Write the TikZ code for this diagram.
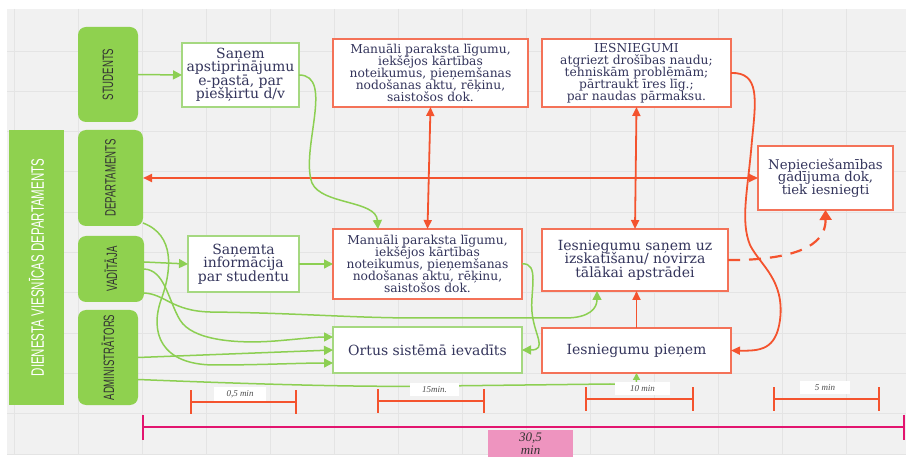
\documentclass[tikz,border=0pt]{standalone}
\usepackage{fontspec}
\setmainfont{DejaVu Serif}
\newfontfamily\narrowsans[FakeStretch=0.64]{Liberation Sans}
\newfontfamily\handfont{Liberation Serif}
\usetikzlibrary{arrows.meta}

\definecolor{lanegreen}{HTML}{8FD14F}
\definecolor{linegreen}{HTML}{8CCF52}
\definecolor{boxgreen}{HTML}{A5D880}
\definecolor{linered}{HTML}{F4532E}
\definecolor{boxred}{HTML}{F47258}
\definecolor{ink}{HTML}{34355C}
\definecolor{bgpaper}{HTML}{F1F1F1}
\definecolor{gridc}{HTML}{E4E4E4}
\definecolor{magentaline}{HTML}{E2156F}
\definecolor{pinknote}{HTML}{EE94BF}

% tight multi-line text: keep the baseline distance even for tall accented glyphs
\lineskiplimit=-100pt
\lineskip=0pt

\tikzset{
  lane/.style={fill=lanegreen, draw=none, rounded corners=8pt, inner sep=0pt, outer sep=0pt,
    text=black!80, font=\narrowsans\fontsize{15}{15}\selectfont},
  bigbar/.style={fill=lanegreen, draw=none, inner sep=0pt, outer sep=0pt,
    text=white, font=\narrowsans\fontsize{18}{18}\selectfont},
  gbox/.style={draw=boxgreen, line width=1.3pt, fill=white, inner sep=0pt, outer sep=0pt,
    align=center, text=ink},
  rbox/.style={draw=boxred, line width=1.3pt, fill=white, inner sep=0pt, outer sep=0pt,
    align=center, text=ink},
  bigtext/.style={font=\fontsize{14}{13.5}\selectfont},
  smalltext/.style={font=\fontsize{12.3}{12}\selectfont},
  gline/.style={draw=linegreen, line width=1.5pt},
  garrow/.style={gline, -{Triangle[length=9pt,width=9pt]}},
  rline/.style={draw=linered, line width=1.8pt},
  rarrow/.style={rline, -{Triangle[length=9pt,width=8pt]}},
  rboth/.style={rline, {Triangle[length=9pt,width=8pt]}-{Triangle[length=9pt,width=8pt]}},
  timebar/.style={draw=linered, line width=1.8pt, {Bar[width=23pt]}-{Bar[width=23pt]}},
  totalbar/.style={draw=magentaline, line width=2pt, {Bar[width=25pt]}-{Bar[width=25pt]}},
  note/.style={fill=white, inner sep=0pt, minimum height=13pt, text=black!70,
    font=\handfont\itshape\fontsize{9}{9}\selectfont},
}

\begin{document}
\begin{tikzpicture}[x=1pt,y=-1pt]
  % canvas and board
  \fill[white] (0,0) rectangle (906,457);
  \useasboundingbox (0,0) rectangle (906,457);
  \fill[bgpaper] (7,9) rectangle (906,455);
  \begin{scope}
    \clip (7,9) rectangle (906,455);
    \foreach \gx in {14,78,...,910} \draw[gridc, line width=0.8pt] (\gx,9) -- (\gx,455);
    \foreach \k in {0,...,10} \draw[gridc, line width=0.8pt] (7,{51+40.3*\k}) -- (906,{51+40.3*\k});
  \end{scope}

  % swimlane headers
  \node[bigbar, minimum width=55pt, minimum height=275pt] (dvd) at (36.5,267.5)
    {\rotatebox{90}{DIENESTA VIESNĪCAS DEPARTAMENTS}};
  \node[lane, minimum width=60pt, minimum height=95pt] (stud) at (108,74.5) {\rotatebox{90}{STUDENTS}};
  \node[lane, minimum width=65pt, minimum height=96pt] (dep) at (110.5,178) {\rotatebox{90}{DEPARTAMENTS}};
  \node[lane, minimum width=66pt, minimum height=66pt] (vad) at (111,269) {\rotatebox{90}{VADĪTĀJA}};
  \node[lane, minimum width=60pt, minimum height=95pt] (adm) at (108,357.5) {\rotatebox{90}{ADMINISTRĀTORS}};

  % process boxes
  \node[gbox, bigtext, minimum width=117pt, minimum height=64pt] (b1) at (240.5,75)
    {Saņem\\apstiprinājumu\\e-pastā, par\\piešķirtu d/v};
  \node[rbox, smalltext, minimum width=195pt, minimum height=68pt] (b2) at (430.5,73)
    {Manuāli paraksta līgumu,\\iekšējos kārtības\\noteikumus, pieņemšanas\\nodošanas aktu, rēķinu,\\saistošos dok.};
  \node[rbox, smalltext, minimum width=189pt, minimum height=68pt] (b3) at (636.5,73)
    {IESNIEGUMI\\atgriezt drošības naudu;\\tehniskām problēmām;\\pārtraukt īres līg.;\\par naudas pārmaksu.};
  \node[rbox, font=\fontsize{13.3}{12.7}\selectfont, minimum width=135pt, minimum height=64pt] (b4) at (825.5,178)
    {Nepieciešamības\\gadījuma dok,\\tiek iesniegti};
  \node[gbox, bigtext, minimum width=111pt, minimum height=56pt] (b5) at (243.5,264)
    {Saņemta\\informācija\\par studentu};
  \node[rbox, smalltext, minimum width=189pt, minimum height=70pt] (b6) at (427.5,264)
    {Manuāli paraksta līgumu,\\iekšējos kārtības\\noteikumus, pieņemšanas\\nodošanas aktu, rēķinu,\\saistošos dok.};
  \node[rbox, bigtext, minimum width=186pt, minimum height=62pt] (b7) at (635,260)
    {Iesniegumu saņem uz\\izskatīšanu/ novirza\\tālākai apstrādei};
  \node[gbox, bigtext, minimum width=189pt, minimum height=46pt] (b8) at (427.5,350)
    {Ortus sistēmā ievadīts};
  \node[rbox, bigtext, minimum width=189pt, minimum height=45pt] (b9) at (636.5,350.5)
    {Iesniegumu pieņem};

  % red connectors
  \draw[rboth, line width=2.2pt] (dep.east) -- (dep.east -| b4.west);
  \draw[rboth] (b2.south) -- (b6.north);
  \draw[rboth] (b3.south) -- (b7.north);
  \draw[rarrow] (b9.north) -- (b9.north |- b7.south);
  \draw[rarrow] (b3.east) .. controls (760,72) and (756,100) .. (752,140)
    .. controls (748,190) and (740,220) .. (750,245)
    .. controls (760,265) and (785,280) .. (780,320)
    .. controls (776,350) and (760,351) .. (b9.east);
  \draw[draw=linered, line width=2.2pt, dash pattern=on 12pt off 9pt,
        -{Triangle[length=10pt,width=12pt]}]
    (b7.east) -- (742,260) .. controls (790,258) and (826,248) .. (b4.south);

  % green connectors
  \draw[garrow] (stud.east) -- (b1.west);
  \draw[garrow] (b1.east) .. controls (335,75) and (300,150) .. (312,183)
    .. controls (322,205) and (376,200) .. ([xshift=-49.5pt]b6.north);
  \draw[garrow] ([yshift=7pt]vad.east) -- (b5.west);
  \draw[garrow] (b5.east) -- (b6.west);
  \draw[garrow] ([yshift=3pt]dep.south east) .. controls (175,235) and (172,270) .. (161,300)
    .. controls (150,332) and (160,365) .. (215,365)
    .. controls (260,365) and (300,363) .. ([yshift=-13pt]b8.west);
  \draw[garrow] (vad.east) .. controls (165,270) and (168,300) .. (180,320)
    .. controls (192,340) and (235,344) .. (275,341)
    .. controls (300,339) and (315,337) .. ([yshift=13pt]b8.west);
  \draw[garrow] (adm.east) -- (b8.west);
  \draw[garrow] ([yshift=-24pt]vad.east) .. controls (165,294) and (172,311) .. (210,312)
    .. controls (300,313) and (350,318) .. (420,318) -- (565,318)
    .. controls (590,318) and (597,308) .. ([xshift=-38pt]b7.south);
  \draw[gline, -{Triangle[length=7pt,width=7pt]}] ([yshift=-22pt]adm.east)
    .. controls (300,386) and (380,387) .. (440,386) -- (610,384)
    .. controls (630,384) and (636.5,392) .. (b9.south);
  \draw[garrow] (b6.east) .. controls (540,262) and (530,292) .. (532,312)
    .. controls (534,335) and (548,350) .. (b8.east);

  % time scale
  \coordinate (t1a) at (190,402); \coordinate (t1b) at (297,402);
  \coordinate (t2a) at (377,401); \coordinate (t2b) at (485,401);
  \coordinate (t3a) at (585,399); \coordinate (t3b) at (694,399);
  \coordinate (t4a) at (773,399); \coordinate (t4b) at (880,399);
  \draw[timebar] (t1a) -- (t1b);
  \draw[timebar] (t2a) -- (t2b);
  \draw[timebar] (t3a) -- (t3b);
  \draw[timebar] (t4a) -- (t4b);
  \node[note, minimum width=52pt] (n1) at (240,394) {0,5 min};
  \node[note, minimum width=49pt] (n2) at (434.5,390) {15min.};
  \node[note, minimum width=55pt] (n3) at (642.5,389) {10 min};
  \node[note, minimum width=50pt] (n4) at (825,388) {5 min};

  \coordinate (ta) at (142,427); \coordinate (tb) at (905,427);
  \draw[totalbar] (ta) -- (tb);
  \node[fill=pinknote, minimum width=85pt, minimum height=28pt, inner sep=0pt, align=center,
        text=black!80, font=\handfont\itshape\fontsize{13}{13}\selectfont] (total) at (530.5,444)
    {30,5\\min};
\end{tikzpicture}
\end{document}
